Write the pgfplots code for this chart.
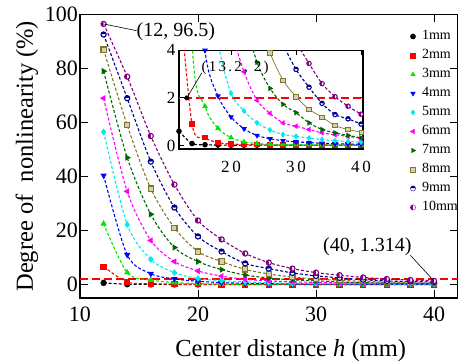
\documentclass[border=0pt]{standalone}
\usepackage{pgfplots}
\pgfplotsset{compat=1.18}
\usepackage{pgfplotstable}
\usepackage{fontspec}
\setmainfont{Liberation Serif}
\usetikzlibrary{plotmarks}

\definecolor{cA}{RGB}{0,0,0}
\definecolor{cB}{RGB}{255,0,0}
\definecolor{cC}{RGB}{0,230,0}
\definecolor{cD}{RGB}{0,0,255}
\definecolor{cE}{RGB}{0,235,235}
\definecolor{cF}{RGB}{255,0,255}
\definecolor{cG}{RGB}{0,100,0}
\definecolor{cH}{RGB}{128,120,40}
\definecolor{cI}{RGB}{0,0,140}
\definecolor{cJ}{RGB}{128,0,128}

\pgfplotstableread{
x  s1    s2    s3    s4    s5    s6    s7    s8    s9    s10
12 0.60  6.60  22.5  40.4  56.5  69.0  79.0  87.0  92.6  96.5
14 0.08  0.90  4.40  11.0  22.2  34.5  47.0  59.0  69.0  77.0
16 0.03  0.33  1.65  4.00  9.30  16.3  26.0  35.5  45.5  55.0
18 0.015 0.12  0.72  2.08  4.40  8.50  13.7  21.0  28.5  37.0
20 0.01  0.06  0.33  1.20  2.20  5.00  8.50  12.2  17.8  23.7
22 0.01  0.04  0.15  0.70  1.45  3.10  5.50  8.50  12.2  16.7
24 0.01  0.03  0.08  0.42  0.95  1.90  3.50  5.60  7.80  11.5
26 0.01  0.02  0.05  0.28  0.65  1.35  2.40  3.90  5.90  8.10
28 0.01  0.02  0.04  0.20  0.46  0.95  1.73  2.75  4.30  5.90
30 0.01  0.015 0.03  0.15  0.38  0.81  1.38  2.05  3.20  4.40
32 0.01  0.01  0.03  0.12  0.31  0.67  0.95  1.52  2.45  3.45
34 0.01  0.01  0.02  0.09  0.25  0.53  0.67  1.19  1.77  2.60
36 0.01  0.01  0.02  0.07  0.20  0.45  0.53  0.84  1.30  2.05
38 0.01  0.01  0.02  0.06  0.17  0.38  0.42  0.67  1.12  1.65
40 0.01  0.01  0.02  0.05  0.14  0.30  0.32  0.56  0.90  1.314
}\data

\pgfplotsset{
  crv/.style={smooth, line width=1.1pt, dash pattern=on 3pt off 2pt},
  mA/.style={cA, mark=*, mark options={solid, fill=cA}},
  mB/.style={cB, mark=square*, mark options={solid, fill=cB}},
  mC/.style={cC, mark=triangle*, mark options={solid, fill=cC}},
  mD/.style={cD, mark=triangle*, mark options={solid, fill=cD, rotate=180}},
  mE/.style={cE, mark=diamond*, mark options={solid, fill=cE}},
  mF/.style={cF, mark=triangle*, mark options={solid, fill=cF, rotate=90}},
  mG/.style={cG, mark=triangle*, mark options={solid, fill=cG, rotate=-90}},
  mH/.style={cH, mark=square*, mark options={solid, draw=cH, fill=cH!35}},
  mI/.style={cI, mark=halfcircle*, mark options={solid, draw=cI, fill=cI}},
  mJ/.style={cJ, mark=halfcircle*, mark options={solid, draw=cJ, fill=cJ, rotate=90}},
}

\begin{document}
\begin{tikzpicture}
\useasboundingbox (-80pt,-66pt) rectangle (378pt,298pt);
\begin{axis}[
  at={(0pt,0pt)}, anchor=south west,
  scale only axis, width=377.6pt, height=283.5pt,
  xmin=10, xmax=42, ymin=-5, ymax=100,
  xtick={10,20,30,40}, ytick={0,20,40,60,80,100},
  tick align=inside, major tick length=8pt,
  axis line style={line width=1.3pt}, tick style={line width=0.9pt, black},
  clip mode=individual,
  tick label style={font=\fontsize{22}{24}\selectfont},
  /pgf/number format/assume math mode=true,
  xticklabel style={yshift=-5pt},
  yticklabel style={inner xsep=2pt},
  xlabel={Center distance \textit{h} (mm)},
  ylabel={Degree of~ nonlinearity (\%)},
  label style={font=\fontsize{24.5}{26}\selectfont},
  xlabel style={at={(axis description cs:0.558,0)}, anchor=base, yshift=-59pt},
  ylabel style={at={(axis description cs:-0.1245,0.5)}, anchor=base, rotate=0},
  mark size=2.6pt,
  legend cell align=left,
  legend style={draw=none, fill=none, at={(axis description cs:0.875,0.956)}, anchor=north west,
    inner sep=0pt, outer sep=0pt, font=\fontsize{14}{16}\selectfont,
    nodes={text height=11pt, text depth=4pt, inner ysep=2pt, inner xsep=6.5pt}},
]
\addplot[red, dash pattern=on 8pt off 4pt, line width=1.5pt, forget plot] coordinates {(9,2) (43,2)};
\addplot[crv, mA, forget plot] table[x=x, y=s1] {\data};
\addplot[crv, mB, forget plot] table[x=x, y=s2] {\data};
\addplot[crv, mC, forget plot] table[x=x, y=s3] {\data};
\addplot[crv, mD, forget plot] table[x=x, y=s4] {\data};
\addplot[crv, mE, forget plot] table[x=x, y=s5] {\data};
\addplot[crv, mF, forget plot] table[x=x, y=s6] {\data};
\addplot[crv, mG, forget plot] table[x=x, y=s7] {\data};
\addplot[crv, mH, forget plot] table[x=x, y=s8] {\data};
\addplot[crv, mI, forget plot] table[x=x, y=s9] {\data};
\addplot[crv, mJ, forget plot] table[x=x, y=s10] {\data};
\addlegendimage{only marks, mA}\addlegendentry{1mm}
\addlegendimage{only marks, mB}\addlegendentry{2mm}
\addlegendimage{only marks, mC}\addlegendentry{3mm}
\addlegendimage{only marks, mD}\addlegendentry{4mm}
\addlegendimage{only marks, mE}\addlegendentry{5mm}
\addlegendimage{only marks, mF}\addlegendentry{6mm}
\addlegendimage{only marks, mG}\addlegendentry{7mm}
\addlegendimage{only marks, mH}\addlegendentry{8mm}
\addlegendimage{only marks, mI}\addlegendentry{9mm}
\addlegendimage{only marks, mJ}\addlegendentry{10mm}
\draw[black, line width=0.6pt] (axis cs:12,96.5) -- (axis cs:14.8,94);
\node[anchor=west, font=\fontsize{20}{22}\selectfont, inner sep=1pt] at (axis cs:14.7,93.7) {(12, 96.5)};
\draw[black, line width=0.6pt] (axis cs:40,1.314) -- (axis cs:38.0,10.8);
\node[anchor=east, font=\fontsize{20}{22}\selectfont, inner sep=1pt] at (axis cs:38.2,14.1) {(40, 1.314)};
\end{axis}

\begin{axis}[
  at={(99pt,149pt)}, anchor=south west,
  scale only axis, width=184pt, height=98.6pt,
  xmin=12, xmax=40.3, ymin=-0.15, ymax=4,
  xtick={20,30,40}, ytick={0,2,4},
  xticklabels={{2\,0},{3\,0},{4\,0}},
  tick align=inside, major tick length=5pt,
  axis background/.style={fill=white},
  axis line style={line width=1.3pt}, tick style={line width=0.9pt, black},
  clip mode=individual,
  tick label style={font=\fontsize{17}{19}\selectfont},
  /pgf/number format/assume math mode=true,
  xticklabel style={yshift=-9pt},
  mark size=2.2pt,
]
\addplot[red, dash pattern=on 8pt off 4pt, line width=1.5pt] coordinates {(11,2) (41,2)};
\addplot[crv, mA] table[x=x, y=s1] {\data};
\addplot[crv, mB] table[x=x, y=s2] {\data};
\addplot[crv, mC] table[x=x, y=s3] {\data};
\addplot[crv, mD] table[x=x, y=s4] {\data};
\addplot[crv, mE] table[x=x, y=s5] {\data};
\addplot[crv, mF] table[x=x, y=s6] {\data};
\addplot[crv, mG] table[x=x, y=s7] {\data};
\addplot[smooth, mH, solid, line width=0.7pt] table[x=x, y=s8] {\data};
\addplot[crv, mI] table[x=x, y=s9] {\data};
\addplot[crv, mJ] table[x=x, y=s10] {\data};
\addplot[only marks, mark=*, mark size=2.2pt, black] coordinates {(13.2,2)};
\draw[black, line width=0.6pt] (axis cs:13.2,2) -- (axis cs:15.5,3.05);
\node[anchor=west, font=\fontsize{15}{17}\selectfont\addfontfeature{LetterSpace=15}, inner sep=1pt] at (axis cs:15.3,3.28) {(13.2, 2)};
\end{axis}
\end{tikzpicture}
\end{document}
